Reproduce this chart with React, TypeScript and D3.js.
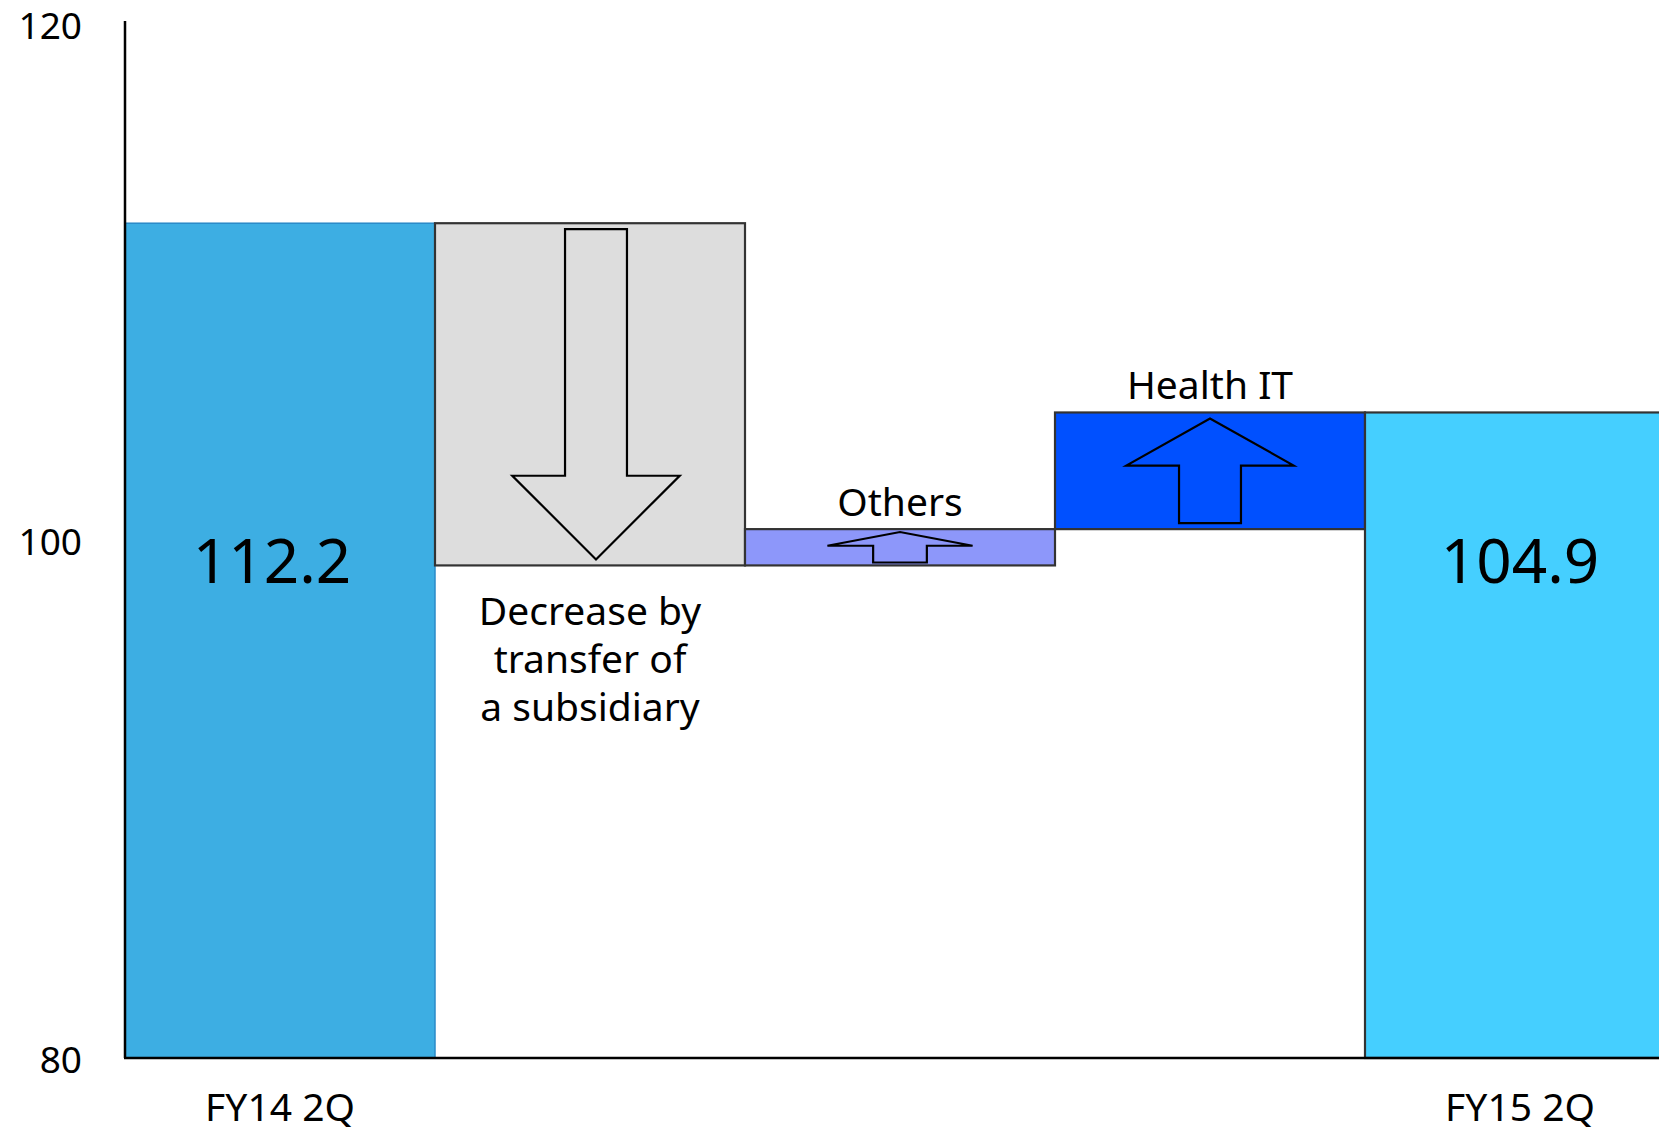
import React from "react";
import * as d3 from "d3";

// ---- data ----
const categories = ["FY14 2Q", "Transfer", "Others", "Health IT", "FY15 2Q"];
const values = [112.2, -13.2, 1.4, 4.5, 104.9];
const kinds = ["total", "delta", "delta", "delta", "total"];
const axisLabels = ["FY14 2Q", "", "", "", "FY15 2Q"];
const stepLabels = [[], ["Decrease by", "transfer of", "a subsidiary"], ["Others"], ["Health IT"], []];
const fills = ["#3DAEE3", "#DDDDDD", "#8D97FA", "#0050FF", "#45CFFF"];
const strokes = ["#2A8AC8", "#333333", "#333333", "#333333", "#333333"];
const tickValues = [80, 100, 120];

const W = 1659;
const H = 1133;
const FONT = "'Noto Sans', 'Open Sans', sans-serif";

function arrowPath(cx: number, yTail: number, yTip: number, headW: number, shaftW: number, headLen: number) {
  const dir = yTip > yTail ? 1 : -1;
  const yBase = yTip - dir * headLen;
  const p = d3.path();
  p.moveTo(cx - shaftW / 2, yTail);
  p.lineTo(cx + shaftW / 2, yTail);
  p.lineTo(cx + shaftW / 2, yBase);
  p.lineTo(cx + headW / 2, yBase);
  p.lineTo(cx, yTip);
  p.lineTo(cx - headW / 2, yBase);
  p.lineTo(cx - shaftW / 2, yBase);
  p.closePath();
  return p.toString();
}

export default function App() {
  const y = d3.scaleLinear().domain([80, 120]).range([1058, 21]);
  const x = d3.scaleBand<string>().domain(categories).range([125, 1675]).paddingInner(0).paddingOuter(0);
  const bw = x.bandwidth();

  // waterfall
  let running = 0;
  const bars = values.map((v, i) => {
    let lo: number, hi: number;
    if (kinds[i] === "total") {
      lo = 80;
      hi = v;
      running = v;
    } else {
      const start = running;
      running = start + v;
      lo = Math.min(start, running);
      hi = Math.max(start, running);
    }
    return { i, v, lo, hi, cat: categories[i] };
  });

  return (
    <svg
      width={W}
      height={H}
      style={{ position: "absolute", left: 0, top: 0, background: "#fff", overflow: "hidden" }}
      fontFamily={FONT}
    >
      <rect x={0} y={0} width={W} height={H} fill="#fff" />
      {bars.map((b) => {
        const x0 = x(b.cat)!;
        const yTop = y(b.hi);
        const yBot = y(b.lo);
        const h = yBot - yTop;
        const isTotal = kinds[b.i] === "total";
        return (
          <g key={b.cat}>
            <rect
              x={x0}
              y={yTop}
              width={bw}
              height={h}
              fill={fills[b.i]}
              stroke={strokes[b.i]}
              strokeWidth={isTotal && b.i === 0 ? 1.5 : 2.2}
            />
            {!isTotal && (() => {
              const inset = Math.min(6, h * 0.08);
              const headW = Math.min(0.54 * bw, 4 * h);
              const shaftW = headW * 0.37;
              const total = h - 2 * inset;
              const headLen = Math.min(headW / 2, total * 0.45);
              const cx = x0 + bw / 2 + (b.v < 0 ? 6 : 0);
              const yTail = b.v < 0 ? yTop + inset : yBot - inset;
              const yTip = b.v < 0 ? yBot - inset : yTop + inset;
              return (
                <path
                  d={arrowPath(cx, yTail, yTip, headW, shaftW, headLen)}
                  fill="none"
                  stroke="#000"
                  strokeWidth={2.2}
                  strokeLinejoin="miter"
                />
              );
            })()}
            {!isTotal &&
              stepLabels[b.i].map((t, k) => {
                const cx = x0 + bw / 2;
                const yy = b.v < 0 ? yBot + 60 + k * 48 : yTop - 13;
                return (
                  <text key={k} x={cx} y={yy} textAnchor="middle" fontSize={39} fill="#000">
                    {t}
                  </text>
                );
              })}
            {isTotal && (
              <text
                x={x0 + bw / 2 - (b.i === 0 ? 8 : 0)}
                y={y(100) + 43}
                textAnchor="middle"
                fontSize={62}
                fill="#000"
              >
                {b.v.toFixed(1)}
              </text>
            )}
            {axisLabels[b.i] && (
              <text x={x0 + bw / 2} y={1121} textAnchor="middle" fontSize={39} fill="#000">
                {axisLabels[b.i]}
              </text>
            )}
          </g>
        );
      })}
      {/* axes */}
      <line x1={125} x2={125} y1={y(120)} y2={y(80)} stroke="#000" strokeWidth={2.5} />
      <line x1={124} x2={W} y1={y(80)} y2={y(80)} stroke="#000" strokeWidth={2.5} />
      {tickValues.map((t) => (
        <text key={t} x={82} y={Math.max(y(t) + 15, 39)} textAnchor="end" fontSize={37} fill="#000">
          {t}
        </text>
      ))}
    </svg>
  );
}
